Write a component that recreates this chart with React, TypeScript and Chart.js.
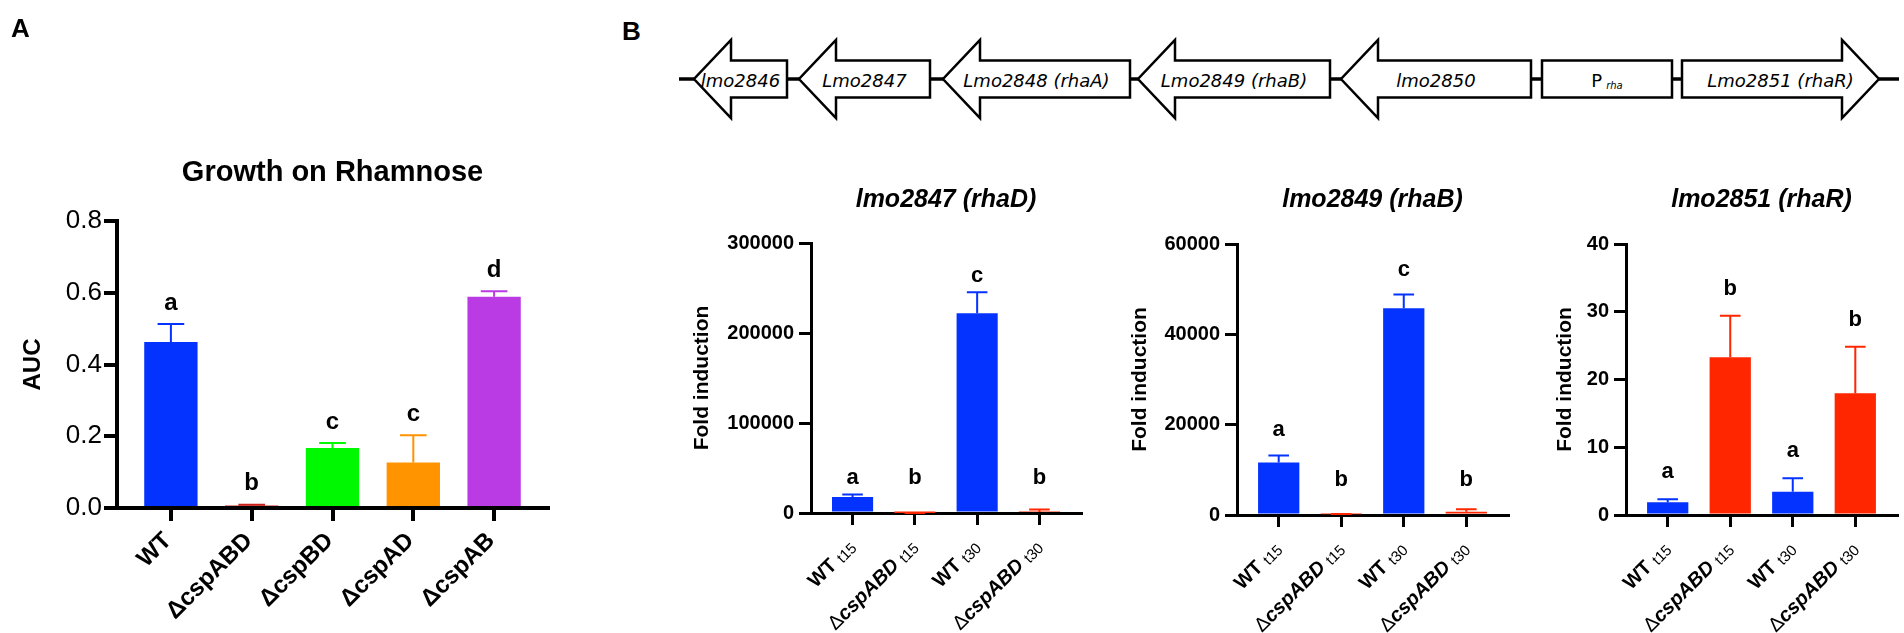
import React, { useEffect, useRef } from 'react';
import { Chart, registerables } from 'chart.js';

Chart.register(...registerables);

const FONT = "'Liberation Sans', Arial, Helvetica, sans-serif";
const GENE_FONT = "'DejaVu Sans', sans-serif";

// ---------- Panel A: growth on rhamnose ----------
const growthCategories = ['WT', 'ΔcspABD', 'ΔcspBD', 'ΔcspAD', 'ΔcspAB'];
const growthAUC = [0.463, 0.007, 0.167, 0.127, 0.589];
const growthSD = [0.05, 0.002, 0.014, 0.076, 0.015];
const growthLetters = ['a', 'b', 'c', 'c', 'd'];
const growthColors = ['#0433FF', '#C8201A', '#00F900', '#FF9300', '#BA3BE4'];
const growthYTicks = [0, 0.2, 0.4, 0.6, 0.8];

// ---------- Panel B: qPCR ----------
const qpcrStrains = ['WT', 'ΔcspABD', 'WT', 'ΔcspABD'];
const qpcrTimes = ['t15', 't15', 't30', 't30'];
const qpcrColors = ['#0433FF', '#FF2600', '#0433FF', '#FF2600'];

const rhaDFold = [17700, 60, 222000, 1100];
const rhaDSD = [2900, 40, 23300, 2900];
const rhaDLetters = ['a', 'b', 'c', 'b'];
const rhaDYTicks = [0, 100000, 200000, 300000];

const rhaBFold = [11600, 150, 45800, 700];
const rhaBSD = [1600, 60, 3000, 560];
const rhaBLetters = ['a', 'b', 'c', 'b'];
const rhaBYTicks = [0, 20000, 40000, 60000];

const rhaRFold = [1.87, 23.3, 3.44, 17.96];
const rhaRSD = [0.45, 6.1, 1.98, 6.88];
const rhaRLetters = ['a', 'b', 'a', 'b'];
const rhaRYTicks = [0, 10, 20, 30, 40];

// ---------- Gene map (schematic, px along the map) ----------
const geneLabels = ['lmo2846', 'Lmo2847', 'Lmo2848 (rhaA)', 'Lmo2849 (rhaB)', 'lmo2850', 'Lmo2851 (rhaR)'];
const geneTails = [787, 930, 1130, 1330, 1531, 1682];
const geneTips = [694, 799, 943, 1138, 1341, 1879];
const promoterSpan = [1542, 1672];

type Seg = { text: string; font: string; dy?: number };

type PanelCfg = {
  box: { x: number; y: number; w: number; h: number };
  axisX: number;
  plotTop: number;
  plotBottom: number;
  plotRight: number;
  values: number[];
  sd: number[];
  colors: string[];
  letters: string[];
  yTicks: number[];
  tickFmt: (v: number) => string;
  tickFont: { size: number; weight: string };
  tickLen: number;
  tickPad: number;
  axisWidth: number;
  errWidth: number;
  yTitle: string;
  yTitleFont: number;
  yTitleX: number;
  title: string;
  titleFont: string;
  titleY: number;
  letterFont: string;
  letterGap: number;
  letterMin: number;
  labels: Seg[][];
  labelDx: number;
  labelDy: number;
  tag?: string;
};

const aLabels: Seg[][] = growthCategories.map((c) => [{ text: c, font: `bold 24px ${FONT}` }]);
const bLabels: Seg[][] = qpcrStrains.map((s, i) => {
  const segs: Seg[] = [];
  if (s.startsWith('Δ')) {
    segs.push({ text: 'Δ', font: `20px ${FONT}` });
    segs.push({ text: s.slice(1), font: `italic bold 20px ${FONT}` });
  } else {
    segs.push({ text: s, font: `bold 20px ${FONT}` });
  }
  segs.push({ text: ' ', font: `bold 20px ${FONT}` });
  segs.push({ text: qpcrTimes[i], font: `15px ${FONT}`, dy: 3 });
  return segs;
});

const bCommon = {
  colors: qpcrColors,
  tickFmt: (v: number) => String(v),
  tickFont: { size: 20, weight: 'bold' },
  tickLen: 12,
  tickPad: 5,
  axisWidth: 3,
  errWidth: 2,
  yTitle: 'Fold induction',
  yTitleFont: 21,
  titleFont: `italic bold 25px ${FONT}`,
  titleY: 200,
  letterFont: `bold 22px ${FONT}`,
  letterMin: 29,
  labels: bLabels,
  labelDx: 0,
  labelDy: 31,
};

const panels: PanelCfg[] = [
  {
    box: { x: 0, y: 0, w: 600, h: 633 },
    axisX: 117,
    plotTop: 221,
    plotBottom: 508,
    plotRight: 548,
    values: growthAUC,
    sd: growthSD,
    colors: growthColors,
    letters: growthLetters,
    yTicks: growthYTicks,
    tickFmt: (v: number) => v.toFixed(1),
    tickFont: { size: 26, weight: 'normal' },
    tickLen: 13,
    tickPad: 2,
    axisWidth: 4,
    errWidth: 2,
    yTitle: 'AUC',
    yTitleFont: 24,
    yTitleX: 33,
    title: 'Growth on Rhamnose',
    titleFont: `bold 29px ${FONT}`,
    titleY: 173,
    letterFont: `bold 24px ${FONT}`,
    letterGap: 14,
    letterMin: 18,
    labels: aLabels,
    labelDx: -3,
    labelDy: 29,
    tag: 'A',
  },
  {
    ...bCommon,
    box: { x: 640, y: 140, w: 450, h: 493 },
    axisX: 811,
    plotTop: 243,
    plotBottom: 513,
    plotRight: 1081,
    values: rhaDFold,
    sd: rhaDSD,
    letters: rhaDLetters,
    yTicks: rhaDYTicks,
    yTitleX: 702,
    title: 'lmo2847 (rhaD)',
    letterGap: 10,
  },
  {
    ...bCommon,
    box: { x: 1090, y: 140, w: 425, h: 493 },
    axisX: 1237,
    plotTop: 244,
    plotBottom: 515,
    plotRight: 1508,
    values: rhaBFold,
    sd: rhaBSD,
    letters: rhaBLetters,
    yTicks: rhaBYTicks,
    yTitleX: 1140,
    title: 'lmo2849 (rhaB)',
    letterGap: 19,
  },
  {
    ...bCommon,
    box: { x: 1515, y: 140, w: 389, h: 493 },
    axisX: 1626,
    plotTop: 244,
    plotBottom: 515,
    plotRight: 1897,
    values: rhaRFold,
    sd: rhaRSD,
    letters: rhaRLetters,
    yTicks: rhaRYTicks,
    yTitleX: 1565,
    title: 'lmo2851 (rhaR)',
    letterGap: 21,
  },
];

function drawRotated(ctx: CanvasRenderingContext2D, segs: Seg[], ax: number, ay: number) {
  ctx.save();
  ctx.translate(ax, ay);
  ctx.rotate(-Math.PI / 4);
  const widths = segs.map((s) => {
    ctx.font = s.font;
    return ctx.measureText(s.text).width;
  });
  let x = -widths.reduce((a, b) => a + b, 0);
  ctx.textAlign = 'left';
  ctx.textBaseline = 'middle';
  ctx.fillStyle = '#000';
  segs.forEach((s, k) => {
    ctx.font = s.font;
    ctx.fillText(s.text, x, s.dy || 0);
    x += widths[k];
  });
  ctx.restore();
}

function makeAnnotPlugin(cfg: PanelCfg) {
  return {
    id: 'annot',
    afterDatasetsDraw(chart: any) {
      const ctx: CanvasRenderingContext2D = chart.ctx;
      const xs = chart.scales.x;
      const ys = chart.scales.y;
      const spacing = xs.getPixelForValue(1) - xs.getPixelForValue(0);
      const half = (spacing * 0.66) / 4;
      ctx.save();
      cfg.values.forEach((v, i) => {
        const x = xs.getPixelForValue(i);
        const yTop = ys.getPixelForValue(v);
        const yErr = ys.getPixelForValue(v + cfg.sd[i]);
        ctx.strokeStyle = cfg.colors[i];
        ctx.lineWidth = cfg.errWidth;
        ctx.beginPath();
        ctx.moveTo(x, yTop);
        ctx.lineTo(x, yErr);
        ctx.moveTo(x - half, yErr);
        ctx.lineTo(x + half, yErr);
        ctx.stroke();
      });
      ctx.restore();
    },
    afterDraw(chart: any) {
      const ctx: CanvasRenderingContext2D = chart.ctx;
      const xs = chart.scales.x;
      const ys = chart.scales.y;
      const area = chart.chartArea;
      const zero = ys.getPixelForValue(0);
      ctx.save();
      // significance letters
      ctx.fillStyle = '#000';
      ctx.font = cfg.letterFont;
      ctx.textAlign = 'center';
      ctx.textBaseline = 'alphabetic';
      cfg.values.forEach((v, i) => {
        const x = xs.getPixelForValue(i);
        const yErr = ys.getPixelForValue(v + cfg.sd[i]);
        const by = Math.min(yErr - cfg.letterGap, zero - cfg.letterMin);
        ctx.fillText(cfg.letters[i], x, by);
      });
      // title
      ctx.font = cfg.titleFont;
      ctx.textBaseline = 'middle';
      ctx.fillText(cfg.title, (area.left + area.right) / 2, cfg.titleY - cfg.box.y);
      // panel tag
      if (cfg.tag) {
        ctx.font = `bold 26px ${FONT}`;
        ctx.textAlign = 'left';
        ctx.fillText(cfg.tag, 11 - cfg.box.x, 30 - cfg.box.y);
      }
      ctx.restore();
      // rotated category labels
      cfg.labels.forEach((segs, i) => {
        const x = xs.getPixelForValue(i);
        drawRotated(ctx, segs, x + cfg.labelDx, zero + cfg.labelDy);
      });
    },
  };
}

function buildConfig(cfg: PanelCfg): any {
  const n = cfg.values.length;
  const off = 0.667;
  return {
    type: 'bar',
    data: {
      datasets: [
        {
          data: cfg.values.map((v, i) => ({ x: i, y: v })),
          backgroundColor: cfg.colors,
          borderWidth: 0,
          categoryPercentage: 1,
          barPercentage: 0.66,
        },
      ],
    },
    options: {
      animation: false,
      responsive: false,
      maintainAspectRatio: false,
      events: [],
      layout: {
        padding: {
          top: cfg.plotTop - cfg.box.y,
          right: cfg.box.x + cfg.box.w - cfg.plotRight,
          left: 0,
          bottom: 0,
        },
      },
      plugins: {
        legend: { display: false },
        tooltip: { enabled: false },
        title: { display: false },
      },
      scales: {
        x: {
          type: 'linear',
          min: -off,
          max: n - 1 + off,
          offset: false,
          z: 1,
          afterBuildTicks: (s: any) => {
            s.ticks = cfg.values.map((_, i) => ({ value: i }));
          },
          afterFit: (s: any) => {
            s.height = cfg.box.y + cfg.box.h - cfg.plotBottom;
          },
          ticks: { display: false },
          grid: {
            display: true,
            offset: false,
            drawOnChartArea: false,
            drawTicks: true,
            tickLength: cfg.tickLen,
            lineWidth: cfg.axisWidth,
            color: '#000',
          },
          border: { display: true, width: cfg.axisWidth, color: '#000' },
        },
        y: {
          type: 'linear',
          min: 0,
          max: cfg.yTicks[cfg.yTicks.length - 1],
          z: 1,
          afterBuildTicks: (s: any) => {
            s.ticks = cfg.yTicks.map((v) => ({ value: v }));
          },
          afterFit: (s: any) => {
            s.width = cfg.axisX - cfg.box.x;
          },
          ticks: {
            color: '#000',
            padding: cfg.tickPad,
            font: { family: FONT, size: cfg.tickFont.size, weight: cfg.tickFont.weight },
            callback: (v: number) => cfg.tickFmt(v),
          },
          grid: {
            display: true,
            drawOnChartArea: false,
            drawTicks: true,
            tickLength: cfg.tickLen,
            lineWidth: cfg.axisWidth,
            color: '#000',
          },
          border: { display: true, width: cfg.axisWidth, color: '#000' },
          title: {
            display: true,
            text: cfg.yTitle,
            color: '#000',
            font: { family: FONT, size: cfg.yTitleFont, weight: 'bold', lineHeight: 1.2 },
            padding: { top: cfg.yTitleX - cfg.box.x - (cfg.yTitleFont * 1.2) / 2, bottom: 0 },
          },
        },
      },
    },
    plugins: [makeAnnotPlugin(cfg)],
  };
}

function BarPanel({ cfg }: { cfg: PanelCfg }) {
  const ref = useRef<HTMLCanvasElement>(null);
  useEffect(() => {
    if (!ref.current) return;
    const chart = new Chart(ref.current, buildConfig(cfg));
    return () => chart.destroy();
  }, [cfg]);
  return (
    <canvas
      ref={ref}
      width={cfg.box.w}
      height={cfg.box.h}
      style={{ position: 'absolute', left: cfg.box.x, top: cfg.box.y, width: cfg.box.w, height: cfg.box.h }}
    />
  );
}

function GeneMap() {
  const cy = 79;
  const headHalf = 39;
  const bodyHalf = 18.5;
  const headLen = 37;
  return (
    <svg width={1904} height={140} style={{ position: 'absolute', left: 0, top: 0 }}>
      <text x={622} y={31} fontFamily={FONT} fontWeight="bold" fontSize={26} dominantBaseline="central">
        B
      </text>
      <line x1={679} y1={cy} x2={1899} y2={cy} stroke="#000" strokeWidth={3.5} />
      {geneLabels.map((g, i) => {
        const t = geneTails[i];
        const p = geneTips[i];
        const dir = Math.sign(p - t);
        const base = p - dir * headLen;
        const pts = [
          [t, cy - bodyHalf],
          [base, cy - bodyHalf],
          [base, cy - headHalf],
          [p, cy],
          [base, cy + headHalf],
          [base, cy + bodyHalf],
          [t, cy + bodyHalf],
        ]
          .map((q) => q.join(','))
          .join(' ');
        return (
          <g key={g}>
            <polygon points={pts} fill="#fff" stroke="#000" strokeWidth={2.5} strokeLinejoin="miter" />
            <text
              x={(t + p) / 2}
              y={cy + 1}
              textAnchor="middle"
              dominantBaseline="central"
              fontFamily={GENE_FONT}
              fontStyle="italic"
              fontSize={18}
            >
              {g}
            </text>
          </g>
        );
      })}
      <rect
        x={promoterSpan[0]}
        y={cy - bodyHalf}
        width={promoterSpan[1] - promoterSpan[0]}
        height={bodyHalf * 2}
        fill="#fff"
        stroke="#000"
        strokeWidth={2.5}
      />
      <text
        x={(promoterSpan[0] + promoterSpan[1]) / 2}
        y={cy + 1}
        textAnchor="middle"
        dominantBaseline="central"
        fontFamily={GENE_FONT}
        fontSize={18}
      >
        P
        <tspan dx={4} dy={5} fontSize={10} fontStyle="italic">
          rha
        </tspan>
      </text>
    </svg>
  );
}

export default function App() {
  useEffect(() => {
    document.body.style.margin = '0';
  }, []);
  return (
    <div
      style={{
        position: 'absolute',
        left: 0,
        top: 0,
        width: 1904,
        height: 633,
        background: '#fff',
        overflow: 'hidden',
      }}
    >
      <GeneMap />
      {panels.map((p) => (
        <BarPanel key={p.title} cfg={p} />
      ))}
    </div>
  );
}
